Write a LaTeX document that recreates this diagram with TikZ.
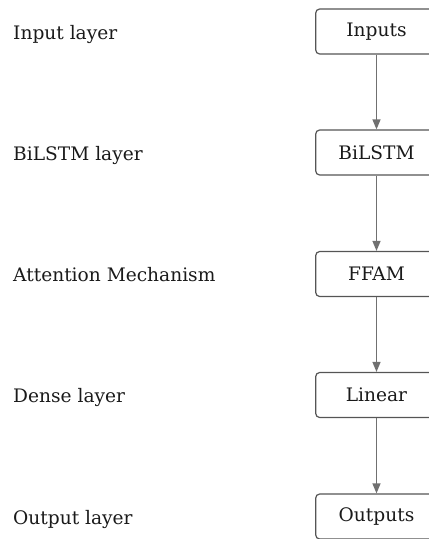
\documentclass[tikz,border=0pt]{standalone}
\usepackage{fontspec}
\setmainfont{DejaVu Serif}
\usetikzlibrary{arrows.meta}
\definecolor{boxline}{HTML}{555555}
\definecolor{arrowline}{HTML}{707070}
\definecolor{labeltext}{HTML}{1A1A1A}
\begin{document}
\begin{tikzpicture}[x=1pt,y=-1pt,
  layerbox/.style={draw=boxline, line width=1.2pt, rounded corners=4pt,
    minimum width=121.6pt, minimum height=45pt, inner sep=0pt,
    font=\fontsize{18.6}{22}\selectfont, text=labeltext},
  layerlabel/.style={anchor=base west, inner sep=0pt,
    font=\fontsize{18.6}{22}\selectfont, text=labeltext},
  flow/.style={draw=arrowline, line width=1.2pt,
    -{Triangle[length=10pt,width=8pt]}}]
  \clip (0,0) rectangle (429,539);
  \useasboundingbox (0,0) rectangle (429,539);
  % stacked layer boxes
  \node[layerbox] (in)   at (376.5,31.5)  {Inputs};
  \node[layerbox] (lstm) at (376.5,152.5) {BiLSTM};
  \node[layerbox] (att)  at (376.5,274)   {FFAM};
  \node[layerbox] (lin)  at (376.5,395)   {Linear};
  \node[layerbox] (out)  at (376.5,516.5) {Outputs};
  % connectors between layers
  \draw[flow] (in)   -- (lstm);
  \draw[flow] (lstm) -- (att);
  \draw[flow] (att)  -- (lin);
  \draw[flow] (lin)  -- (out);
  % layer names on the left
  \node[layerlabel] (lin1) at (13,39)  {Input layer};
  \node[layerlabel] (lin2) at (13,160) {BiLSTM layer};
  \node[layerlabel] (lin3) at (13,281.5) {Attention Mechanism};
  \node[layerlabel] (lin4) at (13,402.5) {Dense layer};
  \node[layerlabel] (lin5) at (13,524) {Output layer};
\end{tikzpicture}
\end{document}
